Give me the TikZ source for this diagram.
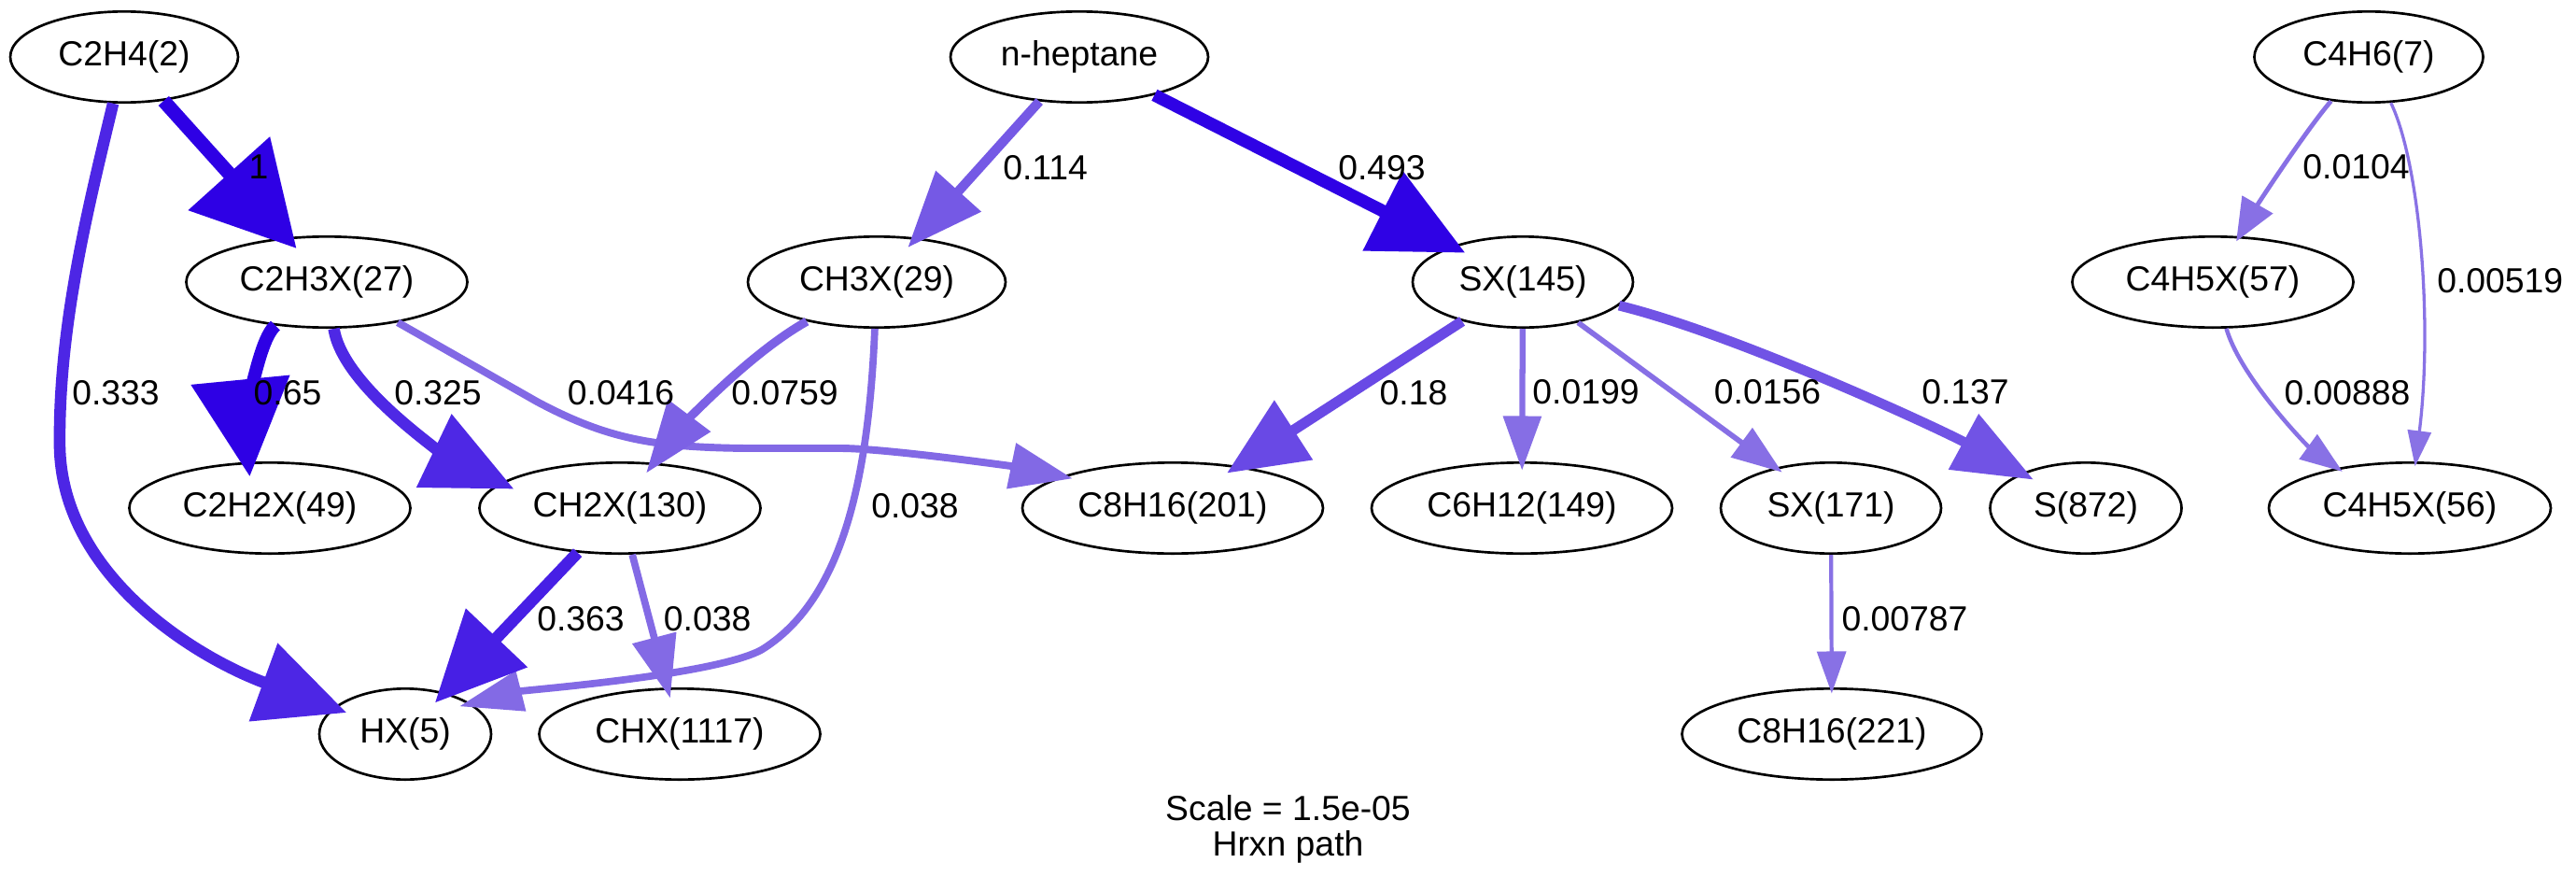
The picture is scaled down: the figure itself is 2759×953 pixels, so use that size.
\documentclass[tikz,border=0pt]{standalone}
\usepackage{fontspec}
\setmainfont{Liberation Sans}
\usetikzlibrary{arrows.meta,shapes.geometric}
\tikzset{
  sp/.style={ellipse, draw=black, line width=1pt, minimum height=36.5pt, inner sep=0pt, font=\fontsize{14pt}{16.8pt}\selectfont},
  lab/.style={inner sep=0pt, font=\fontsize{14pt}{16.8pt}\selectfont},
  fx/.style n args={5}{/utils/exec={\pgfmathsetmacro\fxr{0.9*(1-0.8*#2)}\pgfmathsetmacro\fxg{0.9*(1-#2)}\definecolor{fxcol}{rgb}{\fxr,\fxg,0.9}}, draw=fxcol, line width=#1pt, -{Triangle[length=#3pt,width=#4pt]}, shorten >=-#5pt},
}
\begin{document}
\begin{tikzpicture}[x=0.375pt,y=-0.375pt]
\useasboundingbox (0,0) rectangle (2759,953);
\fill[white] (0,0) rectangle (2759,953);
% species
\node[sp, minimum width=91.5pt]   (c2h4)   at (133,61)   {C2H4(2)};
\node[sp, minimum width=103.5pt]  (nhep)   at (1156,61)  {n-heptane};
\node[sp, minimum width=91.9pt]   (c4h6)   at (2537,61)  {C4H6(7)};
\node[sp, minimum width=112.9pt]  (c2h3x)  at (350,302)  {C2H3X(27)};
\node[sp, minimum width=103.5pt]  (ch3x)   at (939,302)  {CH3X(29)};
\node[sp, minimum width=88.5pt]   (sx145)  at (1631,302) {SX(145)};
\node[sp, minimum width=112.9pt]  (c4h5xb) at (2370,302) {C4H5X(57)};
\node[sp, minimum width=112.9pt]  (c2h2x)  at (289,544)  {C2H2X(49)};
\node[sp, minimum width=112.9pt]  (ch2x)   at (664,544)  {CH2X(130)};
\node[sp, minimum width=120.75pt] (c8a)    at (1256,544) {C8H16(201)};
\node[sp, minimum width=120.75pt] (c6h12)  at (1630,544) {C6H12(149)};
\node[sp, minimum width=88.5pt]   (sx171)  at (1961,544) {SX(171)};
\node[sp, minimum width=76.9pt]   (s872)   at (2234,544) {S(872)};
\node[sp, minimum width=113.25pt] (c4h5xa) at (2581,544) {C4H5X(56)};
\node[sp, minimum width=69pt]     (hx)     at (434,786)  {HX(5)};
\node[sp, minimum width=112.9pt]  (chx)    at (728,786)  {CHX(1117)};
\node[sp, minimum width=120.4pt]  (c8b)    at (1962,786) {C8H16(221)};
% fluxes
\draw[fx={5.62}{1}{40.5}{42.75}{6.0}] (c2h4) -- (c2h3x);
\draw[fx={4.70}{0.833}{35.6}{32.25}{5.7}] (c2h4) .. controls (95,220) and (62,350) .. (64,480) .. controls (68,620) and (215,706) .. (hx);
\draw[fx={5.26}{1}{39}{38.6}{5.9}] (c2h3x) .. controls (272,368) and (264.3,477.5) .. (c2h2x.115);
\draw[fx={4.68}{0.825}{35.6}{31.5}{5.8}] (c2h3x) .. controls (368,420) and (498,498.5) .. (ch2x.168);
\draw[fx={2.97}{0.5416}{25.1}{18}{4.4}] (c2h3x) -- (575,430) .. controls (650,470) and (700,479) .. (800,480) -- (900,480) .. controls (950,480) and (1090.4,500.3) .. (c8a.164);
\draw[fx={3.47}{0.5759}{28.9}{20.6}{5.2}] (ch3x) .. controls (795,383) and (720.5,468.7) .. (ch2x);
\draw[fx={2.89}{0.538}{25.5}{16.1}{4.8}] (ch3x) .. controls (930,520) and (900,640) .. (820,693) .. controls (780,722) and (561.3,738.9) .. (hx.25);
\draw[fx={3.81}{0.614}{30.4}{23.6}{5.3}] (nhep) -- (ch3x);
\draw[fx={5.03}{0.993}{37.1}{34.5}{6.0}] (nhep) -- (sx145);
\draw[fx={4.19}{0.68}{31.9}{27.4}{5.3}] (sx145) -- (c8a);
\draw[fx={2.35}{0.5199}{21.8}{15}{3.6}] (sx145) -- (c6h12);
\draw[fx={2.15}{0.5156}{20.2}{14.2}{3.2}] (sx145) -- (sx171);
\draw[fx={3.96}{0.637}{32}{24.4}{5.5}] (sx145) .. controls (1860,358) and (2078.8,459.8) .. (s872);
\draw[fx={1.58}{0.50787}{16.9}{11.5}{2.45}] (sx171) -- (c8b);
\draw[fx={1.81}{0.5104}{17.1}{13.9}{2.4}] (c4h6) .. controls (2469,140.5) and (2417.5,219.7) .. (c4h5xb);
\draw[fx={1.23}{0.50519}{14.3}{9.4}{2.0}] (c4h6) .. controls (2592,175) and (2605.7,346.7) .. (c4h5xa);
\draw[fx={1.68}{0.50888}{17}{12}{2.5}] (c4h5xb) .. controls (2400,405) and (2472.3,478.4) .. (c4h5xa.151);
\draw[fx={4.78}{0.863}{36}{33}{5.7}] (ch2x) -- (hx);
\draw[fx={2.89}{0.538}{25.1}{17.6}{4.4}] (ch2x) -- (chx);
% flux labels
\node[lab] (l1)  at (277,179)    {1};
\node[lab] (l2)  at (124,421)    {0.333};
\node[lab] (l3)  at (308,421)    {0.65};
\node[lab] (l4)  at (469,421)    {0.325};
\node[lab] (l5)  at (665,421)    {0.0416};
\node[lab] (l6)  at (840.5,421)  {0.0759};
\node[lab] (l7)  at (980,541.7)  {0.038};
\node[lab] (l8)  at (1119.6,180) {0.114};
\node[lab] (l9)  at (1480,180)   {0.493};
\node[lab] (l10) at (1514,421)   {0.18};
\node[lab] (l11) at (1698.5,420) {0.0199};
\node[lab] (l12) at (1893,420)   {0.0156};
\node[lab] (l13) at (2105,420)   {0.137};
\node[lab] (l14) at (2040,663)   {0.00787};
\node[lab] (l15) at (2523.5,179) {0.0104};
\node[lab] (l16) at (2677.7,301) {0.00519};
\node[lab] (l17) at (2514,421)   {0.00888};
\node[lab] (l18) at (622,663)    {0.363};
\node[lab] (l19) at (757.6,663)  {0.038};
% title
\node[lab] (t1) at (1379.5,865)   {Scale = 1.5e-05};
\node[lab] (t2) at (1379.5,906.7) {Hrxn path};
\end{tikzpicture}
\end{document}
